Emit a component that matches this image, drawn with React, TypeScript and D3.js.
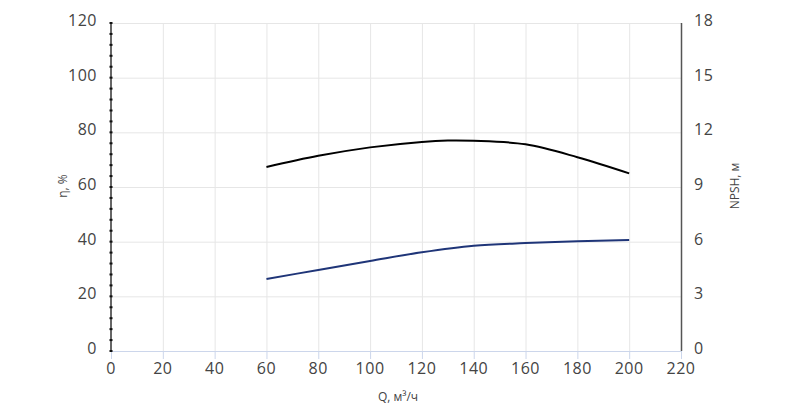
import React, { useEffect, useRef } from "react";
import * as d3 from "d3";

const flow = [60, 80, 100, 120, 130, 140, 160, 180, 200];
const efficiency = [67.3, 71.4, 74.5, 76.5, 77.0, 76.9, 75.6, 70.9, 65.0];
const npshFlow = [60, 80, 100, 120, 140, 160, 180, 200];
const npsh = [3.95, 4.45, 4.94, 5.42, 5.78, 5.92, 6.02, 6.09];

const xTicks = d3.range(0, 221, 20);
const yLeftTicks = d3.range(0, 121, 20);
const yRightTicks = d3.range(0, 19, 3);
const yLeftMinor = d3.range(0, 121, 4);

const W = 800;
const H = 408;
const M = { left: 111, right: 681, top: 23, bottom: 351 };
const FONT = "'Open Sans', sans-serif";

export default function App() {
  const ref = useRef<SVGSVGElement>(null);

  useEffect(() => {
    const svg = d3.select(ref.current);
    svg.selectAll("*").remove();

    const x = d3.scaleLinear().domain([0, 220]).range([M.left, M.right]);
    const yL = d3.scaleLinear().domain([0, 120]).range([M.bottom, M.top]);
    const yR = d3.scaleLinear().domain([0, 18]).range([M.bottom, M.top]);

    // grid
    const g = svg.append("g");
    g.selectAll("line.hg")
      .data(yLeftTicks.filter((t) => t > 0))
      .join("line")
      .attr("x1", M.left)
      .attr("x2", M.right)
      .attr("y1", (d) => yL(d) + 0.5)
      .attr("y2", (d) => yL(d) + 0.5)
      .attr("stroke", "#e6e6e6")
      .attr("stroke-width", 1);
    g.selectAll("line.vg")
      .data(xTicks.filter((t) => t > 0 && t < 220))
      .join("line")
      .attr("x1", (d) => x(d) + 0.5)
      .attr("x2", (d) => x(d) + 0.5)
      .attr("y1", M.top)
      .attr("y2", M.bottom)
      .attr("stroke", "#e6e6e6")
      .attr("stroke-width", 1);

    // bottom axis
    const bx = svg.append("g");
    bx.append("line")
      .attr("x1", M.left)
      .attr("x2", M.right + 1)
      .attr("y1", M.bottom + 0.5)
      .attr("y2", M.bottom + 0.5)
      .attr("stroke", "#ccd6eb");
    bx.selectAll("line.t")
      .data(xTicks)
      .join("line")
      .attr("x1", (d) => x(d) + 0.5)
      .attr("x2", (d) => x(d) + 0.5)
      .attr("y1", M.bottom)
      .attr("y2", M.bottom + 8)
      .attr("stroke", "#ccd6eb");
    bx.selectAll("text")
      .data(xTicks)
      .join("text")
      .attr("x", (d) => x(d))
      .attr("y", 374)
      .attr("text-anchor", "middle")
      .attr("font-family", FONT)
      .attr("font-size", 16)
      .attr("letter-spacing", 0.5)
      .attr("fill", "#444")
      .text((d) => d);

    // left axis
    const la = svg.append("g");
    la.append("line")
      .attr("x1", M.left)
      .attr("x2", M.left)
      .attr("y1", M.top)
      .attr("y2", M.bottom)
      .attr("stroke", "#333")
      .attr("stroke-width", 1.5);
    la.selectAll("line.m")
      .data(yLeftMinor)
      .join("line")
      .attr("x1", M.left - 1.5)
      .attr("x2", M.left + 1.5)
      .attr("y1", (d) => yL(d))
      .attr("y2", (d) => yL(d))
      .attr("stroke", "#111")
      .attr("stroke-width", 2);
    la.selectAll("text")
      .data(yLeftTicks)
      .join("text")
      .attr("x", 97)
      .attr("y", (d) => yL(d) + 3)
      .attr("text-anchor", "end")
      .attr("font-family", FONT)
      .attr("font-size", 16)
      .attr("letter-spacing", 0.5)
      .attr("fill", "#444")
      .text((d) => d);
    la.append("text")
      .attr("transform", "translate(67,186) rotate(-90)")
      .attr("text-anchor", "middle")
      .attr("font-family", FONT)
      .attr("font-size", 12)
      .attr("fill", "#444")
      .text("η, %");

    // right axis
    const ra = svg.append("g");
    ra.append("line")
      .attr("x1", M.right + 0.5)
      .attr("x2", M.right + 0.5)
      .attr("y1", M.top)
      .attr("y2", M.bottom)
      .attr("stroke", "#555")
      .attr("stroke-width", 1.5);
    ra.selectAll("text")
      .data(yRightTicks)
      .join("text")
      .attr("x", 694)
      .attr("y", (d) => yR(d) + 3)
      .attr("text-anchor", "start")
      .attr("font-family", FONT)
      .attr("font-size", 16)
      .attr("letter-spacing", 0.5)
      .attr("fill", "#444")
      .text((d) => d);
    ra.append("text")
      .attr("transform", "translate(739,186) rotate(-90)")
      .attr("text-anchor", "middle")
      .attr("font-family", FONT)
      .attr("font-size", 12)
      .attr("fill", "#444")
      .text("NPSH, м");

    svg.append("text")
      .attr("x", 398)
      .attr("y", 401)
      .attr("text-anchor", "middle")
      .attr("font-family", FONT)
      .attr("font-size", 12)
      .attr("fill", "#444")
      .text("Q, м³/ч");

    // curves
    const effLine = d3
      .line<number>()
      .x((_, i) => x(flow[i]))
      .y((d) => yL(d))
      .curve(d3.curveCatmullRom.alpha(0.5));
    svg.append("path")
      .attr("d", effLine(efficiency) || "")
      .attr("fill", "none")
      .attr("stroke", "#000")
      .attr("stroke-width", 2);

    const npshLine = d3
      .line<number>()
      .x((_, i) => x(npshFlow[i]))
      .y((d) => yR(d))
      .curve(d3.curveCatmullRom.alpha(0.5));
    svg.append("path")
      .attr("d", npshLine(npsh) || "")
      .attr("fill", "none")
      .attr("stroke", "#1f3578")
      .attr("stroke-width", 2);
  }, []);

  return (
    <svg
      ref={ref}
      width={W}
      height={H}
      style={{ position: "absolute", left: 0, top: 0, background: "#fff" }}
    />
  );
}
